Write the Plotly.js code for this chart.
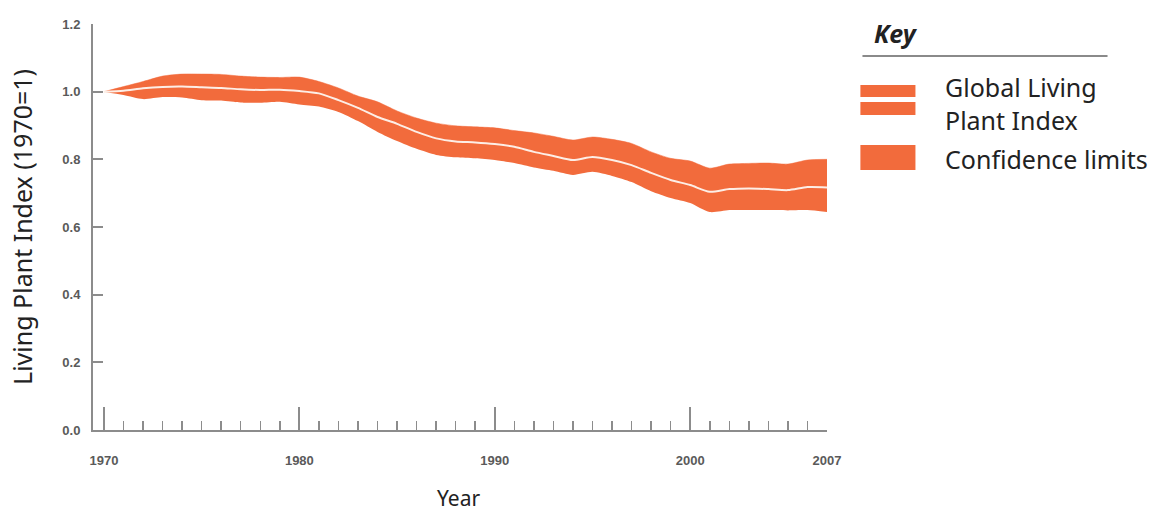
<!DOCTYPE html>
<html>
<head>
<meta charset="utf-8">
<script src="https://cdn.plot.ly/plotly-3.0.1.min.js"></script>
<style>html,body{margin:0;padding:0;background:#fff;}#chart{width:1158px;height:514px;}</style>
</head>
<body>
<div id="chart"></div>
<script>
// Data
const years = [1970,1971,1972,1973,1974,1975,1976,1977,1978,1979,1980,1981,1982,1983,1984,1985,1986,1987,1988,1989,1990,1991,1992,1993,1994,1995,1996,1997,1998,1999,2000,2001,2002,2003,2004,2005,2006,2007];
const indexValues = [1.000,1.003,1.010,1.014,1.015,1.013,1.011,1.007,1.005,1.006,1.002,0.995,0.975,0.952,0.925,0.905,0.881,0.862,0.853,0.850,0.845,0.837,0.822,0.810,0.798,0.807,0.798,0.783,0.760,0.739,0.724,0.704,0.712,0.714,0.712,0.709,0.718,0.717];
const upperLimit = [1.000,1.015,1.030,1.046,1.052,1.052,1.051,1.046,1.043,1.042,1.043,1.030,1.011,0.987,0.970,0.943,0.922,0.907,0.899,0.896,0.893,0.885,0.878,0.868,0.857,0.866,0.859,0.847,0.822,0.803,0.795,0.774,0.786,0.788,0.789,0.786,0.798,0.800];
const lowerLimit = [1.000,0.990,0.978,0.984,0.983,0.975,0.974,0.968,0.967,0.970,0.962,0.956,0.940,0.913,0.881,0.854,0.831,0.813,0.806,0.803,0.798,0.789,0.776,0.766,0.754,0.763,0.751,0.733,0.706,0.686,0.671,0.644,0.650,0.650,0.650,0.649,0.650,0.644];
const yTickVals = [0,0.2,0.4,0.6,0.8,1.0,1.2];
const yTickText = ['0.0','0.2','0.4','0.6','0.8','1.0','1.2'];
const xMajorTicks = [1970,1980,1990,2000];
const xLabelVals = [1970,1980,1990,2000,2007];
const xLabelText = ['1970','1980','1990','2000','2007'];
const legendLabels = ['Global Living<br>Plant Index','Confidence limits'];

const ORANGE = '#F26B3C';
const AXIS = '#8c8c8c';
const FONT = 'Noto Sans, Open Sans, sans-serif';
const TICKFONT = {family:'Liberation Sans, Arial, sans-serif', size:13, color:'#5a5a5a', weight:'bold'};

const traces = [
  {x:years, y:lowerLimit, type:'scatter', mode:'lines', line:{width:0, color:ORANGE, shape:'spline', smoothing:0.7}, hoverinfo:'skip', showlegend:false},
  {x:years, y:upperLimit, type:'scatter', mode:'lines', fill:'tonexty', fillcolor:ORANGE, line:{width:0.5, color:ORANGE, shape:'spline', smoothing:0.7}, hoverinfo:'skip', showlegend:false},
  {x:years, y:indexValues, xaxis:'x2', type:'scatter', mode:'lines', line:{width:2, color:'#fdeee6', shape:'spline', smoothing:0.7}, hoverinfo:'skip', showlegend:false}
];

const xr = [1969.44, 2007];
const layout = {
  width:1158, height:514,
  margin:{l:93, r:331, t:24, b:84},
  paper_bgcolor:'#fff', plot_bgcolor:'#fff',
  showlegend:false,
  xaxis:{range:xr, showgrid:false, zeroline:false, showline:true, linecolor:AXIS, linewidth:2,
    ticks:'inside', tickvals:xMajorTicks, ticklen:23, tickwidth:2, tickcolor:AXIS, showticklabels:false,
    minor:{ticks:'inside', tick0:1970, dtick:1, ticklen:9, tickwidth:1.5, tickcolor:AXIS, showgrid:false}},
  xaxis2:{range:xr, overlaying:'x', anchor:'y', side:'bottom', showgrid:false, zeroline:false, showline:false,
    ticks:'', tickvals:xLabelVals, ticktext:xLabelText, tickfont:TICKFONT, ticklabelstandoff:21},
  yaxis:{range:[0,1.2], showgrid:false, zeroline:false, showline:true, linecolor:AXIS, linewidth:2,
    ticks:'inside', ticklen:10, tickwidth:2, tickcolor:AXIS, tickvals:yTickVals, ticktext:yTickText,
    tickfont:TICKFONT, ticklabelstandoff:8},
  shapes:[
    {type:'line', xref:'paper', yref:'paper', x0:1.0483, x1:1.3822, y0:0.9212, y1:0.9212, line:{color:'#8a8a8a', width:2}},
    {type:'rect', xref:'paper', yref:'paper', x0:1.0455, x1:1.1205, y0:0.8202, y1:0.8498, fillcolor:ORANGE, line:{width:0}},
    {type:'rect', xref:'paper', yref:'paper', x0:1.0455, x1:1.1205, y0:0.7759, y1:0.8079, fillcolor:ORANGE, line:{width:0}},
    {type:'rect', xref:'paper', yref:'paper', x0:1.0455, x1:1.1205, y0:0.6404, y1:0.7020, fillcolor:ORANGE, line:{width:0}}
  ],
  annotations:[
    {text:'Living Plant Index (1970=1)', xref:'paper', yref:'paper', x:-0.0968, y:0.5, xanchor:'center', yanchor:'middle', textangle:-90, showarrow:false, font:{family:FONT, size:25, color:'#222'}},
    {text:'Year', xref:'paper', yref:'paper', x:0.4976, y:-0.168, xanchor:'center', yanchor:'middle', showarrow:false, borderpad:0, font:{family:FONT, size:21, color:'#222'}},
    {text:'<b><i>Key</i></b>', xref:'paper', yref:'paper', x:1.0619, y:0.9778, xanchor:'left', yanchor:'middle', showarrow:false, font:{family:FONT, size:25, color:'#222'}},
    {text:legendLabels[0], xref:'paper', yref:'paper', x:1.1587, y:0.8030, xanchor:'left', yanchor:'middle', align:'left', showarrow:false, font:{family:FONT, size:25, color:'#222'}},
    {text:legendLabels[1], xref:'paper', yref:'paper', x:1.1587, y:0.6675, xanchor:'left', yanchor:'middle', align:'left', showarrow:false, font:{family:FONT, size:25, color:'#222'}}
  ]
};

Plotly.newPlot('chart', traces, layout, {displayModeBar:false, staticPlot:true});
</script>
</body>
</html>
